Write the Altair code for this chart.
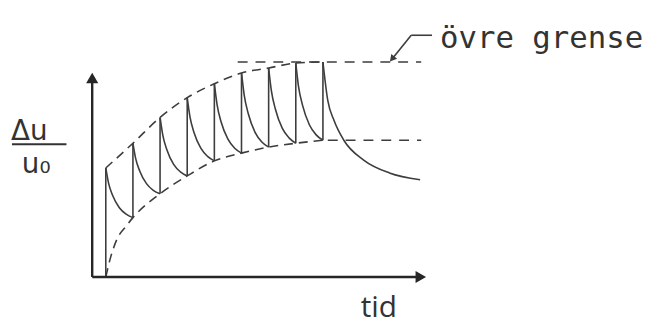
import altair as alt
import pandas as pd

# ---------------- data (tid in tooth intervals, Δu/u0 relative to the upper limit) -------------
jump_t = [0.5, 1.5, 2.5, 3.5, 4.5, 5.5, 6.5, 7.5, 8.5]
jump_low = [0.0, 0.276, 0.387, 0.470, 0.540, 0.576, 0.604, 0.622, 0.636]
jump_high = [0.507, 0.622, 0.742, 0.834, 0.899, 0.949, 0.972, 0.995, 1.0]

arc_t = [
    [0.5, 0.6, 0.75, 1.0, 1.25, 1.5],
    [1.5, 1.6, 1.75, 2.0, 2.25, 2.5],
    [2.5, 2.6, 2.75, 3.0, 3.25, 3.5],
    [3.5, 3.6, 3.75, 4.0, 4.25, 4.5],
    [4.5, 4.6, 4.75, 5.0, 5.25, 5.5],
    [5.5, 5.6, 5.75, 6.0, 6.25, 6.5],
    [6.5, 6.6, 6.75, 7.0, 7.25, 7.5],
    [7.5, 7.6, 7.75, 8.0, 8.25, 8.5],
    [8.5, 8.68, 8.91, 9.27, 10.0, 10.95, 12.08],
]
arc_y = [
    [0.507, 0.438, 0.380, 0.322, 0.292, 0.276],
    [0.622, 0.552, 0.493, 0.434, 0.403, 0.387],
    [0.742, 0.660, 0.592, 0.524, 0.489, 0.470],
    [0.834, 0.746, 0.672, 0.599, 0.561, 0.540],
    [0.899, 0.802, 0.721, 0.641, 0.599, 0.576],
    [0.949, 0.846, 0.759, 0.673, 0.628, 0.604],
    [0.972, 0.867, 0.780, 0.692, 0.647, 0.622],
    [0.995, 0.887, 0.798, 0.708, 0.661, 0.636],
    [1.0, 0.82, 0.728, 0.636, 0.544, 0.484, 0.452],
]

upper_t = [0.5, 1.5, 2.5, 3.5, 4.5, 5.5, 6.5, 7.5, 8.5]
upper_y = [0.507, 0.622, 0.742, 0.834, 0.899, 0.949, 0.972, 0.995, 1.0]
lower_t = [0.5, 0.69, 0.91, 1.24, 1.5, 2.5, 3.5, 4.5, 5.5, 6.5, 7.5, 8.5]
lower_y = [0.0, 0.097, 0.175, 0.235, 0.276, 0.387, 0.470, 0.540, 0.576, 0.604, 0.622, 0.636]

upper_limit = [1.0]
upper_flat_t = [5.36, 12.12]
lower_limit = [0.636]
lower_flat_t = [8.68, 12.12]

label_upper = "övre grense"
label_x = "tid"
label_num = "Δu"
label_den = "u₀"

# ---------------- layout (page pixels -> data) ----------------
W, H = 636, 319
PX0, PX_PER_T = 93.0, 27.4
PY0, PY_PER_Y = 278.0, 217.0
t_min = (8 - PX0) / PX_PER_T
t_max = (8 + W - PX0) / PX_PER_T
y_max = (PY0 - 8) / PY_PER_Y
y_min = (PY0 - (8 + H)) / PY_PER_Y


def T(px):
    return (px - PX0) / PX_PER_T


def Y(py):
    return (PY0 - py) / PY_PER_Y


xs = alt.Scale(domain=[t_min, t_max], nice=False, zero=False)
ys = alt.Scale(domain=[y_min, y_max], nice=False, zero=False)
X = lambda f: alt.X(f, scale=xs, axis=None)
Yc = lambda f: alt.Y(f, scale=ys, axis=None)

LINE = "#3d3d3d"
AXIS = "#262626"
TXT = "#333333"

# ---------------- tables ----------------
arc_rows = []
for k, (ts, vs) in enumerate(zip(arc_t, arc_y)):
    for i, (t, v) in enumerate(zip(ts, vs)):
        arc_rows.append({"tooth": k, "i": i, "t": t, "y": v})
df_arc = pd.DataFrame(arc_rows)
df_jump = pd.DataFrame({"t": jump_t, "lo": jump_low, "hi": jump_high})
df_up = pd.DataFrame({"t": upper_t, "y": upper_y})
df_low = pd.DataFrame({"t": lower_t, "y": lower_y})
df_upflat = pd.DataFrame({"t": [upper_flat_t[0]], "t2": [upper_flat_t[1]], "y": upper_limit})
df_lowflat = pd.DataFrame({"t": [lower_flat_t[0]], "t2": [lower_flat_t[1]], "y": lower_limit})

dash = [9, 6]
sw = 1.6

lower_env = alt.Chart(df_low).mark_line(
    color=LINE, strokeWidth=sw, strokeDash=dash, interpolate="monotone"
).encode(x=X("t:Q"), y=Yc("y:Q"), order="t:Q")
upper_env = alt.Chart(df_up).mark_line(
    color=LINE, strokeWidth=sw, strokeDash=dash, interpolate="monotone"
).encode(x=X("t:Q"), y=Yc("y:Q"), order="t:Q")
upper_flat = alt.Chart(df_upflat).mark_rule(
    color=LINE, strokeWidth=sw, strokeDash=[10, 8]
).encode(x=X("t:Q"), x2="t2:Q", y=Yc("y:Q"))
lower_flat = alt.Chart(df_lowflat).mark_rule(
    color=LINE, strokeWidth=sw, strokeDash=[10, 8]
).encode(x=X("t:Q"), x2="t2:Q", y=Yc("y:Q"))

jumps = alt.Chart(df_jump).mark_rule(color=LINE, strokeWidth=sw).encode(
    x=X("t:Q"), y=Yc("lo:Q"), y2="hi:Q"
)
arcs = alt.Chart(df_arc).mark_line(color=LINE, strokeWidth=sw, interpolate="monotone").encode(
    x=X("t:Q"), y=Yc("y:Q"), detail="tooth:N", order="i:Q"
)

# axes
df_ax = pd.DataFrame({"t": [0.0], "t2": [T(424.7)], "y": [0.0], "y2": [Y(77.2)]})
x_axis = alt.Chart(df_ax).mark_rule(color=AXIS, strokeWidth=2.4).encode(
    x=X("t:Q"), x2="t2:Q", y=Yc("y:Q")
)
y_axis = alt.Chart(df_ax).mark_rule(color=AXIS, strokeWidth=2.4).encode(
    x=X("t:Q"), y=Yc("y:Q"), y2="y2:Q"
)
df_ah = pd.DataFrame({"t": [0.0], "y": [Y(77.2)]})
y_head = alt.Chart(df_ah).mark_point(
    shape="triangle-up", filled=True, size=150, color=AXIS, opacity=1
).encode(x=X("t:Q"), y=Yc("y:Q"))
df_xh = pd.DataFrame({"t": [T(424.7)], "y": [0.0]})
x_head = alt.Chart(df_xh).mark_point(
    shape="triangle-right", filled=True, size=150, color=AXIS, opacity=1
).encode(x=X("t:Q"), y=Yc("y:Q"))

# leader for "övre grense"
df_lead = pd.DataFrame({
    "t": [T(415), T(415)], "t2": [T(436), T(395.7)],
    "y": [Y(34), Y(34)], "y2": [Y(34), Y(57.9)],
})
leader = alt.Chart(df_lead).mark_rule(color=LINE, strokeWidth=1.6).encode(
    x=X("t:Q"), x2="t2:Q", y=Yc("y:Q"), y2="y2:Q"
)
df_lh = pd.DataFrame({"t": [T(395.7)], "y": [Y(57.9)]})
lead_head = alt.Chart(df_lh).mark_point(
    shape="triangle-up", angle=220, filled=True, size=60, color=LINE, opacity=1
).encode(x=X("t:Q"), y=Yc("y:Q"))

# fraction bar
df_bar = pd.DataFrame({"t": [T(12)], "t2": [T(67)], "y": [Y(144)]})
frac_bar = alt.Chart(df_bar).mark_rule(color=TXT, strokeWidth=2).encode(
    x=X("t:Q"), x2="t2:Q", y=Yc("y:Q")
)


def text(label, px, py, font, size):
    d = pd.DataFrame({"t": [T(px)], "y": [Y(py)], "label": [label]})
    return alt.Chart(d).mark_text(
        align="left", baseline="alphabetic", font=font, fontSize=size, color=TXT
    ).encode(x=X("t:Q"), y=Yc("y:Q"), text="label:N")


t_upper = text(label_upper, 444, 47, "DejaVu Sans Mono", 31)
t_x = text(label_x, 364, 318, "Open Sans", 30)
t_num = text(label_num, 11, 140, "DejaVu Sans", 28)
t_den = text(label_den, 22, 173, "DejaVu Sans", 28)

chart = alt.layer(
    lower_env, upper_env, upper_flat, lower_flat, jumps, arcs,
    x_axis, y_axis, y_head, x_head, leader, lead_head, frac_bar,
    t_upper, t_x, t_num, t_den,
).properties(width=W, height=H, padding=0).configure_view(stroke=None)

chart.save("out.html", embed_options={"renderer": "svg", "actions": False})
